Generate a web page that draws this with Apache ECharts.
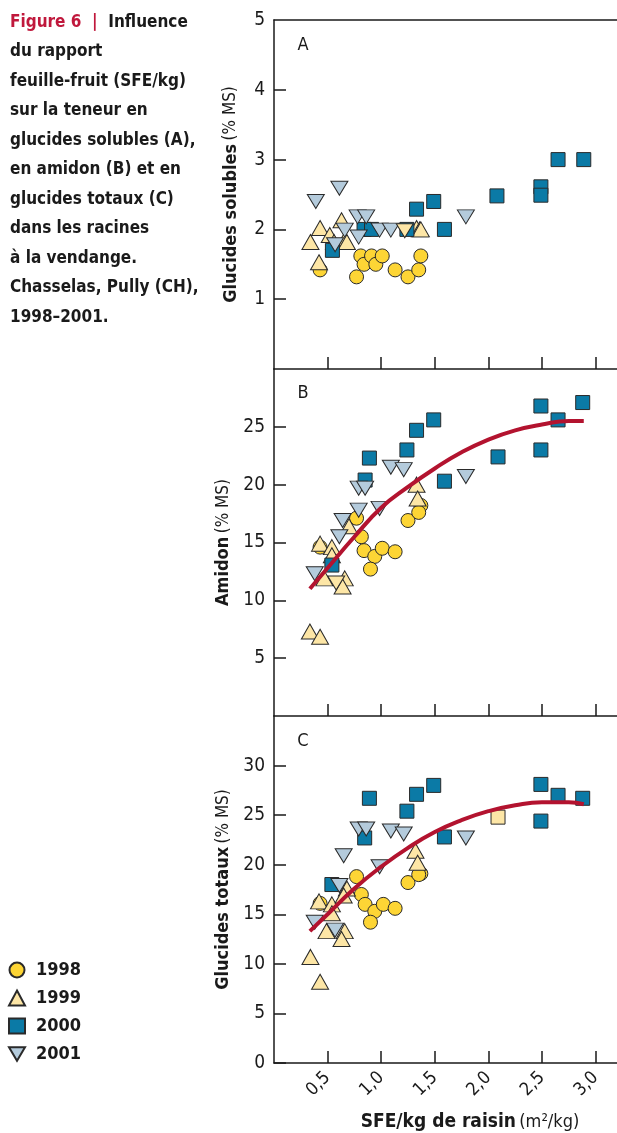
<!DOCTYPE html>
<html>
<head>
<meta charset="utf-8">
<title>Figure 6</title>
<script src="https://cdn.jsdelivr.net/npm/echarts@6/dist/echarts.min.js"></script>
<style>
  html, body { margin: 0; padding: 0; background: #fff; }
  #chart { width: 617px; height: 1133px; }
</style>
</head>
<body>
<div id="chart"></div>
<script>
  // valeurs : [SFE/kg de raisin, teneur % MS]
  const years = ['1998', '1999', '2000', '2001'];
  const xTicks = [0.5, 1, 1.5, 2, 2.5, 3];
  const yTicksA = [1, 2, 3, 4, 5];
  const yTicksB = [5, 10, 15, 20, 25];
  const yTicksC = [0, 5, 10, 15, 20, 25, 30];

  // A - glucides solubles
  const solubles1998 = [[0.43, 1.42], [0.77, 1.32], [0.81, 1.62], [0.84, 1.5], [0.91, 1.62], [0.95, 1.5],
    [1.01, 1.62], [1.13, 1.42], [1.25, 1.32], [1.35, 1.42], [1.37, 1.62]];
  const solubles1999 = [[0.34, 1.82], [0.43, 2.02], [0.42, 1.53], [0.52, 1.92], [0.56, 1.82], [0.63, 2.13],
    [0.66, 1.85], [0.68, 1.82], [1.33, 2.02], [1.36, 2.0], [1.37, 2.0]];
  const solubles2000 = [[0.545, 1.7], [0.84, 2.0], [0.91, 2.0], [1.24, 2.0], [1.33, 2.29], [1.49, 2.4],
    [1.59, 2.0], [2.08, 2.48], [2.49, 2.61], [2.49, 2.49], [2.65, 3.0], [2.89, 3.0]];
  const solubles2001 = [[0.39, 2.4], [0.61, 2.59], [0.78, 2.18], [0.86, 2.18], [0.66, 1.99], [0.57, 1.78],
    [0.79, 1.89], [0.985, 1.99], [1.09, 1.99], [1.79, 2.18]];
  const solubles2001Pale = [[1.22, 1.98]];

  // B - amidon
  const amidon1998 = [[0.43, 14.6], [0.77, 17.1], [0.815, 15.5], [0.84, 14.3], [0.94, 13.8], [0.9, 12.7],
    [1.01, 14.5], [1.13, 14.2], [1.25, 16.9], [1.37, 18.2], [1.35, 17.6]];
  const amidon1999 = [[0.335, 7.3], [0.43, 6.85], [0.43, 14.9], [0.54, 14.6], [0.54, 13.9], [0.47, 11.9],
    [0.66, 11.9], [0.64, 11.2], [0.7, 16.4], [1.33, 20.0], [1.34, 18.8]];
  const amidon2000 = [[0.54, 13.05], [0.85, 20.4], [0.89, 22.3], [1.24, 23.0], [1.33, 24.7], [1.49, 25.6],
    [1.59, 20.3], [2.09, 22.4], [2.49, 23.0], [2.49, 26.8], [2.65, 25.6], [2.88, 27.1]];
  const amidon2001 = [[0.38, 12.3], [0.61, 15.5], [0.64, 16.9], [0.79, 17.8], [0.985, 17.95], [0.79, 19.7],
    [0.85, 19.7], [1.09, 21.5], [1.21, 21.3], [1.79, 20.7]];
  const amidon2001Pale = [[0.58, 11.5]];
  const amidonCourbe = [[0.335, 11.0], [0.5, 12.8], [0.75, 15.5], [1.0, 18.0], [1.25, 19.8], [1.5, 21.4],
    [1.75, 22.8], [2.0, 23.9], [2.25, 24.7], [2.5, 25.2], [2.75, 25.5], [2.89, 25.5]];

  // C - glucides totaux
  const totaux1998 = [[0.43, 16.1], [0.77, 18.8], [0.815, 17.0], [0.85, 16.0], [0.94, 15.3], [0.9, 14.2],
    [1.02, 16.0], [1.13, 15.6], [1.25, 18.2], [1.37, 19.1], [1.35, 19.0]];
  const totaux1999 = [[0.34, 10.7], [0.43, 8.2], [0.42, 16.3], [0.54, 16.0], [0.54, 15.1], [0.49, 13.3],
    [0.66, 13.3], [0.63, 12.5], [0.68, 17.6], [0.65, 16.9], [1.32, 21.4], [1.34, 20.2]];
  const totaux2000 = [[0.54, 18.0], [0.846, 22.7], [0.89, 26.7], [1.24, 25.4], [1.33, 27.1], [1.49, 28.0],
    [1.59, 22.8], [2.49, 28.1], [2.49, 24.4], [2.65, 27.0], [2.88, 26.7]];
  const totaux2000Pale = [[2.09, 24.8]];
  const totaux2001 = [[0.38, 14.2], [0.57, 13.4], [0.61, 17.9], [0.65, 20.9], [0.985, 19.8], [0.79, 23.6],
    [0.86, 23.6], [1.09, 23.4], [1.21, 23.1], [1.79, 22.7]];
  const totauxCourbe = [[0.335, 13.3], [0.5, 15.0], [0.75, 17.6], [1.0, 19.8], [1.25, 21.7], [1.5, 23.3],
    [1.75, 24.5], [2.0, 25.4], [2.25, 26.0], [2.5, 26.3], [2.75, 26.3], [2.89, 26.1]];

  const captionLines = ['du rapport', 'feuille-fruit (SFE/kg)', 'sur la teneur en', 'glucides solubles (A),',
    'en amidon (B) et en', 'glucides totaux (C)', 'dans les racines', 'à la vendange.',
    'Chasselas, Pully (CH),', '1998–2001.'];

  const FONT = "'Liberation Sans Narrow', 'DejaVu Sans Condensed', 'Roboto', sans-serif";
  const INK = '#1a1a1a';
  const PALE = '#fde6a6';

  const yearStyle = {
    '1998': { symbol: 'circle', size: 14, color: '#fdd535' },
    '1999': { symbol: 'triangle', size: [17, 15], color: PALE },
    '2000': { symbol: 'rect', size: 14, color: '#0b7aa6' },
    '2001': { symbol: 'path://M0,0L20,0L10,17Z', size: [17, 14], color: '#b4cbdc' }
  };

  function points(year, data, grid, color) {
    let st = yearStyle[year];
    return {
      name: year,
      type: 'scatter',
      xAxisIndex: grid,
      yAxisIndex: grid,
      symbol: st.symbol,
      symbolSize: st.size,
      itemStyle: { color: color || st.color, borderColor: '#2a2a2a', borderWidth: 1, opacity: 1 },
      data: data
    };
  }

  function curve(data, grid) {
    return {
      type: 'line',
      xAxisIndex: grid,
      yAxisIndex: grid,
      smooth: true,
      showSymbol: false,
      lineStyle: { color: '#b3132f', width: 4 },
      z: 5,
      data: data
    };
  }

  const lineStyle = { color: INK, width: 1.5 };

  function xAxis(grid, withLabels) {
    return {
      type: 'value', gridIndex: grid, min: 0, max: 3.2,
      axisLine: { lineStyle: lineStyle, onZero: false },
      axisTick: { inside: true, length: 12, customValues: xTicks, lineStyle: lineStyle },
      axisLabel: withLabels ? {
        customValues: xTicks, rotate: 45, margin: 12, fontSize: 18, fontFamily: FONT, color: INK,
        formatter: v => v.toFixed(1).replace('.', ',')
      } : { show: false },
      splitLine: { show: false }
    };
  }

  function yAxis(grid, max, ticks, labels, bold, regular) {
    return {
      type: 'value', gridIndex: grid, min: 0, max: max,
      axisLine: { lineStyle: lineStyle },
      axisTick: { inside: true, length: 12, customValues: ticks, lineStyle: lineStyle },
      axisLabel: { customValues: labels, margin: 9, fontSize: 19, fontFamily: FONT, color: INK },
      splitLine: { show: false },
      name: '{b|' + bold + '} {r|' + regular + '}',
      nameLocation: 'middle',
      nameGap: 34,
      nameTextStyle: {
        rich: {
          b: { fontWeight: 'bold', fontSize: 18, fontFamily: FONT, color: INK },
          r: { fontSize: 17, fontFamily: FONT, color: INK }
        }
      }
    };
  }

  let chart = echarts.init(document.getElementById('chart'));

  let captionText = '{r|Figure 6\u00a0\u00a0|\u00a0\u00a0}{b|Influence}\n' +
    captionLines.map(l => '{b|' + l + '}').join('\n');

  chart.setOption({
    animation: false,
    backgroundColor: '#fff',
    textStyle: { fontFamily: FONT },
    grid: [
      { left: 274, right: 0, top: 20, height: 349 },
      { left: 274, right: 0, top: 369, height: 347 },
      { left: 274, right: 0, top: 716, height: 347 }
    ],
    xAxis: [
      xAxis(0, false),
      xAxis(1, false),
      xAxis(2, true),
      // trait du haut du panneau A
      { type: 'value', gridIndex: 0, min: 0, max: 3.2, position: 'top',
        axisLine: { lineStyle: lineStyle, onZero: false }, axisTick: { show: false },
        axisLabel: { show: false }, splitLine: { show: false } }
    ],
    yAxis: [
      yAxis(0, 5, yTicksA.slice(0, 4), yTicksA, 'Glucides solubles', '(% MS)'),
      yAxis(1, 30, yTicksB, yTicksB, 'Amidon', '(% MS)'),
      yAxis(2, 35, yTicksC.concat([30]), yTicksC, 'Glucides totaux', '(% MS)')
    ],
    legend: {
      data: years,
      orient: 'vertical',
      left: 3,
      top: 956,
      itemWidth: 16,
      itemHeight: 15,
      itemGap: 10,
      textStyle: { fontSize: 18, fontWeight: 'bold', fontFamily: FONT, color: INK, padding: [0, 0, 0, 6] }
    },
    graphic: [
      {
        type: 'text', left: 10, top: 14,
        style: {
          text: captionText,
          rich: {
            r: { fontSize: 17, fontWeight: 'bold', fontFamily: FONT, fill: '#c0183c', lineHeight: 29.5 },
            b: { fontSize: 17, fontWeight: 'bold', fontFamily: FONT, fill: INK, lineHeight: 29.5 }
          }
        }
      },
      { type: 'text', x: 303, y: 45, style: { text: 'A', fontSize: 18, fontFamily: FONT, fill: INK, align: 'center', verticalAlign: 'middle' } },
      { type: 'text', x: 303, y: 393, style: { text: 'B', fontSize: 18, fontFamily: FONT, fill: INK, align: 'center', verticalAlign: 'middle' } },
      { type: 'text', x: 303, y: 741, style: { text: 'C', fontSize: 18, fontFamily: FONT, fill: INK, align: 'center', verticalAlign: 'middle' } },
      {
        type: 'text', x: 470, y: 1122,
        style: {
          text: '{b|SFE/kg de raisin} {r|(m²/kg)}',
          align: 'center', verticalAlign: 'middle',
          rich: {
            b: { fontSize: 19, fontWeight: 'bold', fontFamily: FONT, fill: INK },
            r: { fontSize: 18, fontFamily: FONT, fill: INK }
          }
        }
      }
    ],
    series: [
      points('1998', solubles1998, 0),
      points('1999', solubles1999, 0),
      points('2000', solubles2000, 0),
      points('2001', solubles2001, 0),
      points('2001', solubles2001Pale, 0, PALE),

      points('1998', amidon1998, 1),
      points('1999', amidon1999, 1),
      points('2000', amidon2000, 1),
      points('2001', amidon2001, 1),
      points('2001', amidon2001Pale, 1, PALE),
      curve(amidonCourbe, 1),

      points('1998', totaux1998, 2),
      points('1999', totaux1999, 2),
      points('2000', totaux2000, 2),
      points('2000', totaux2000Pale, 2, PALE),
      points('2001', totaux2001, 2),
      curve(totauxCourbe, 2)
    ]
  });
</script>
</body>
</html>
